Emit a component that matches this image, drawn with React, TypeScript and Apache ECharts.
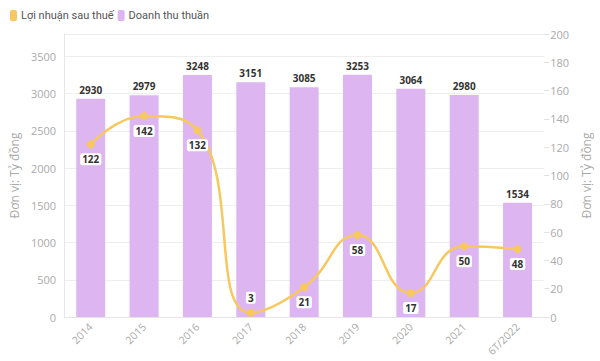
import React, { useEffect, useRef } from "react";
import * as echarts from "echarts";

const categories = ["2014", "2015", "2016", "2017", "2018", "2019", "2020", "2021", "6T/2022"];
const revenue = [2930, 2979, 3248, 3151, 3085, 3253, 3064, 2980, 1534];
const profit = [122, 142, 132, 3, 21, 58, 17, 50, 48];
const profitLabelPos = ["bottom", "bottom", "bottom", "top", "bottom", "bottom", "bottom", "bottom", "bottom"];

export default function App() {
  const ref = useRef<HTMLDivElement>(null);
  useEffect(() => {
    const chart = echarts.init(ref.current!, null, { renderer: "svg" });
    const font = "'Open Sans', 'Noto Sans', sans-serif";
    chart.setOption({
      animation: false,
      textStyle: { fontFamily: font },
      legend: {
        left: 5,
        top: 5,
        itemWidth: 7,
        itemHeight: 11,
        itemGap: 4,
        textStyle: { color: "#555", fontSize: 11, fontFamily: "Roboto, sans-serif", padding: [0, 0, 0, -1] },
        data: [
          { name: "Lợi nhuận sau thuế", icon: "roundRect", itemStyle: { color: "#F7C85E" } },
          { name: "Doanh thu thuần", icon: "roundRect", itemStyle: { color: "#DDB5F1" } },
        ],
      },
      grid: { left: 62, right: 52, top: 34, bottom: 44, containLabel: false },
      xAxis: {
        type: "category",
        data: categories,
        axisLine: { lineStyle: { color: "#e6e6e6" } },
        axisTick: { alignWithLabel: true, lineStyle: { color: "#e6e6e6" }, length: 5 },
        axisLabel: { rotate: 45, color: "#aaa", fontSize: 10.5, margin: 8 },
      },
      yAxis: [
        {
          type: "value",
          min: 0,
          max: 3800,
          interval: 500,
          name: "Đơn vị: Tỷ đồng",
          nameLocation: "middle",
          nameGap: 39,
          nameTextStyle: { color: "#aaa", fontSize: 12 },
          axisLine: { show: true, lineStyle: { color: "#e6e6e6" } },
          axisTick: { show: false },
          axisLabel: {
            color: "#aaa",
            fontSize: 11,
            showMaxLabel: false,
            formatter: (v: number) => (v % 500 === 0 ? String(v) : ""),
          },
          splitLine: { lineStyle: { color: "#eeeeee" } },
        },
        {
          type: "value",
          min: 0,
          max: 200,
          interval: 20,
          name: "Đơn vị: Tỷ đồng",
          nameLocation: "middle",
          nameGap: 35,
          nameTextStyle: { color: "#aaa", fontSize: 12 },
          axisLine: { show: false },
          axisTick: { show: true, length: 5, lineStyle: { color: "#e0e0e0" } },
          axisLabel: { color: "#aaa", fontSize: 11, margin: 6 },
          splitLine: { show: false },
        },
      ],
      series: [
        {
          name: "Doanh thu thuần",
          type: "bar",
          yAxisIndex: 0,
          barWidth: 29,
          data: revenue,
          itemStyle: { color: "#DDB5F1" },
          label: {
            show: true,
            position: "top",
            color: "#333",
            fontWeight: "bold",
            fontSize: 10,
            distance: 4,
          },
        },
        {
          name: "Lợi nhuận sau thuế",
          type: "line",
          yAxisIndex: 1,
          smooth: true,
          symbol: "circle",
          symbolSize: 8,
          data: profit.map((v, i) => ({
            value: v,
            label: { position: profitLabelPos[i] },
          })),
          itemStyle: { color: "#F7C85E" },
          lineStyle: { color: "#F7C85E", width: 2.5 },
          label: {
            show: true,
            color: "#333",
            fontWeight: "bold",
            fontSize: 10,
            backgroundColor: "#fff",
            borderRadius: 2,
            padding: [1, 2],
            distance: 5,
          },
          z: 5,
        },
      ],
    });
    return () => chart.dispose();
  }, []);
  return <div ref={ref} style={{ width: 600, height: 361, position: "absolute", left: 0, top: 0 }} />;
}
